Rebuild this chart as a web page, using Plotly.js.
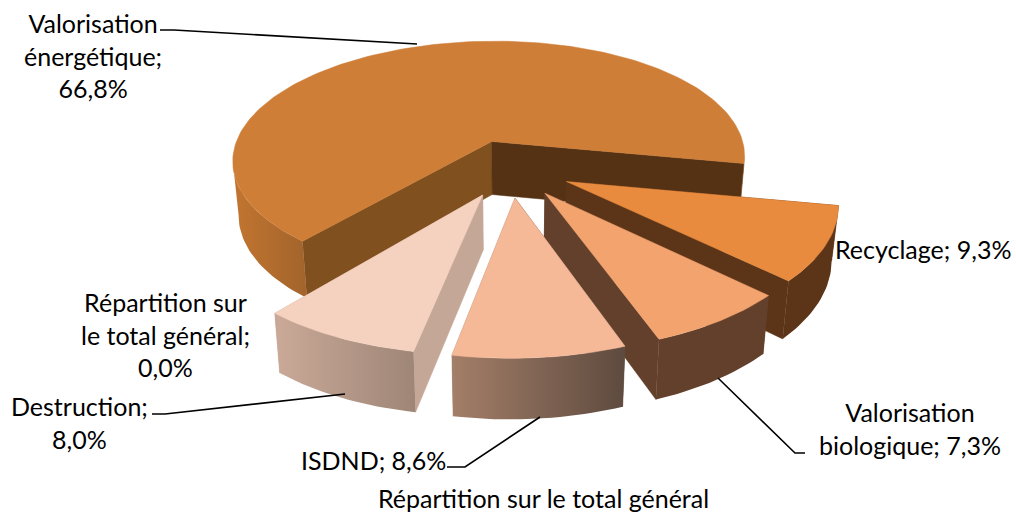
<!DOCTYPE html>
<html>
<head>
<meta charset="utf-8">
<script src="https://cdn.plot.ly/plotly-3.0.1.min.js"></script>
<style>html,body{margin:0;padding:0;background:#fff}#chart{width:1016px;height:512px}text{font-variant-ligatures:none}</style>
</head>
<body>
<div id="chart"></div>
<script>
// Data
const categories = ["Valorisation énergétique", "Recyclage", "Valorisation biologique", "ISDND", "Destruction"];
const shares = [66.8, 9.3, 7.3, 8.6, 8.0];
const seriesName = "Répartition sur le total général";

// Styles (order follows categories)
const topColors = ["#cf7e38", "#e88b3e", "#f3a36e", "#f5b998", "#f5d1bf"];
const rimLeft = ["#c07430", "#5c3518", "#62402b", "#a37e68", "#c9a897"];
const rimRight = ["#a4652c", "#5c3518", "#62402b", "#5f4b3f", "#9e8677"];
const startWallColors = ["#80501f", "#5c3518", "#62402b", "#5f4b3f", "#c5a797"];
const endWallColors = ["#553214", "#5c3518", "#62402b", "#a37e68", "#c5a797"];
const radiusScale = [0.98, 1, 1, 1, 1];
const drawOrder = [0, 1, 2, 4, 3];

// Projection of the tilted, exploded pie
const cx = 511, cy = 168, R = 266, H = 125, k = 0.155, explode = 0.232, firstAngle = 127;
const shear = -18, tilt = 7, bottomScale = 0.979;
function project(X, Y, down) {
  const s = 1 / (1 - k * Y);
  const depth = down ? 24 + 30 * s : 0;
  const px = R * X * s + shear * Y;
  return [cx + (down ? bottomScale : 1) * px, cy + H * Y * s + tilt * X + depth];
}
const rad = d => d * Math.PI / 180;

const total = shares.reduce((a, b) => a + b, 0);
let cursor = firstAngle;
const sliceAngles = shares.map(v => {
  const a0 = cursor; cursor += v / total * 360; return [a0, cursor];
});

function polyTrace(pts, color, gradient) {
  const t = {
    type: "scatter", mode: "lines", hoverinfo: "skip", showlegend: false,
    x: pts.map(p => p[0]).concat(pts[0][0]),
    y: pts.map(p => p[1]).concat(pts[0][1]),
    line: {width: 0.5, color: color},
    fill: "toself", fillcolor: color
  };
  if (gradient) {
    t.fillgradient = {type: "horizontal", start: gradient[2], stop: gradient[3],
      colorscale: [[0, gradient[0]], [1, gradient[1]]]};
    t.line = {width: 0};
  }
  return t;
}

const traces = [];
drawOrder.forEach(i => {
  const [a0, a1] = sliceAngles[i];
  const mid = rad((a0 + a1) / 2);
  const ox = explode * Math.cos(mid), oy = explode * Math.sin(mid);
  const r = radiusScale[i];
  const rimAngles = [];
  const n = Math.ceil((a1 - a0) / 1.5);
  for (let j = 0; j <= n; j++) rimAngles.push(a0 + (a1 - a0) * j / n);
  const rim = down => rimAngles.map(a => project(ox + r * Math.cos(rad(a)), oy + r * Math.sin(rad(a)), down));
  const apexT = project(ox, oy, false), apexB = project(ox, oy, true);
  const rT = rim(false), rB = rim(true);
  const last = rT.length - 1;

  // radial walls
  traces.push(polyTrace([apexT, rT[0], rB[0], apexB], startWallColors[i]));
  traces.push(polyTrace([apexT, rT[last], rB[last], apexB], endWallColors[i]));

  // outer wall: only the runs of the rim that face the viewer
  const xs = rB.map(p => p[0]);
  const gradSpan = i === 0 ? [Math.min(...xs), rT[0][0]] : [Math.min(...xs), Math.max(...xs)];
  let run = [];
  const flush = () => {
    if (run.length > 1) {
      const top = run.map(j => rT[j]), bot = run.map(j => rB[j]).reverse();
      traces.push(polyTrace(top.concat(bot), rimLeft[i], [rimLeft[i], rimRight[i], gradSpan[0], gradSpan[1]]));
    }
    run = [];
  };
  for (let j = 0; j < last; j++) {
    if (rT[j + 1][0] < rT[j][0]) {
      if (!run.length) run.push(j);
      run.push(j + 1);
    } else flush();
  }
  flush();

  // top face
  traces.push(polyTrace([apexT].concat(rT), topColors[i]));
});

// Text
const labelFont = {family: "Lato, Carlito, Calibri, sans-serif", size: 25, color: "#000000"};
const labelTexts = ["Valorisation<br>énergétique;<br>66,8%", "Recyclage; 9,3%", "Valorisation<br>biologique; 7,3%",
  "ISDND; 8,6%", "Destruction;<br>8,0%", "Répartition sur<br>le total général;<br>0,0%", seriesName];
const labelX = [93, 923, 910, 373, 79, 165, 543];
const labelY = [55, 249, 428, 460, 422, 334, 498];
const annotations = labelTexts.map((t, i) => ({
  text: t, x: labelX[i], y: labelY[i], xref: "x", yref: "y", showarrow: false,
  font: labelFont, align: "center", xanchor: "center", yanchor: "middle"
}));

// Leader lines
const leaders = [
  [[160, 30], [174, 30], [417, 44]],
  [[152, 414], [165, 414], [345, 394]],
  [[447, 467], [465, 467], [540, 417]],
  [[805, 453], [795, 453], [718, 378]]
];
leaders.forEach(l => traces.push({
  type: "scatter", mode: "lines", hoverinfo: "skip", showlegend: false,
  x: l.map(p => p[0]), y: l.map(p => p[1]), line: {color: "#000", width: 1.6}
}));

const hidden = {visible: false, fixedrange: true};
Plotly.newPlot("chart", traces, {
  width: 1016, height: 512,
  margin: {l: 0, r: 0, t: 0, b: 0},
  paper_bgcolor: "#fff", plot_bgcolor: "#fff",
  xaxis: Object.assign({range: [0, 1016]}, hidden),
  yaxis: Object.assign({range: [512, 0]}, hidden),
  annotations: annotations, showlegend: false
}, {staticPlot: true});
</script>
</body>
</html>
